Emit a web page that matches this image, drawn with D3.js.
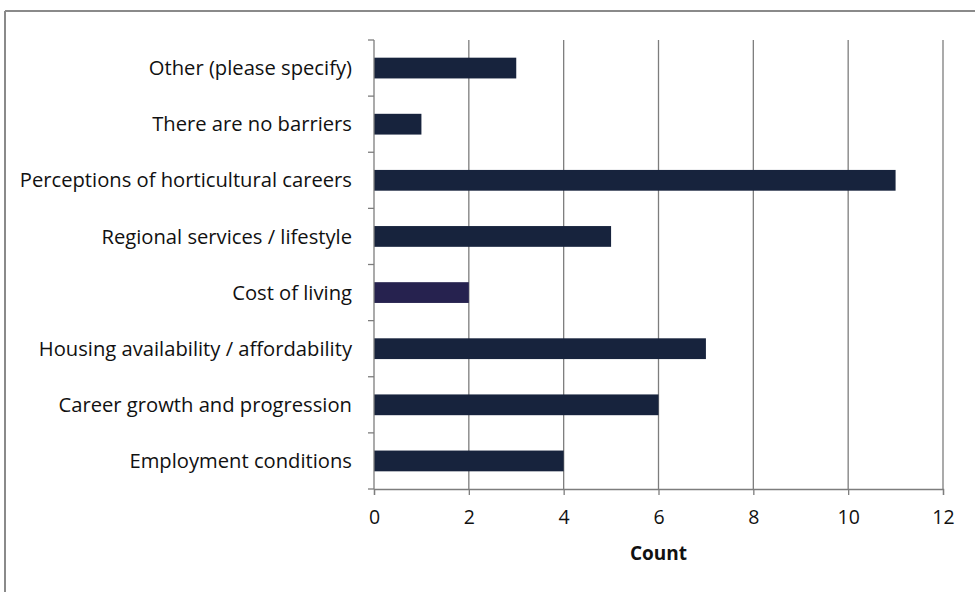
<!DOCTYPE html>
<html>
<head>
<meta charset="utf-8">
<script src="https://cdn.jsdelivr.net/npm/d3@7"></script>
<style>
  body { margin: 0; background: #fff; }
  text { font-family: "Open Sans", Lato, sans-serif; fill: #111; }
</style>
</head>
<body>
<script>
// chart data
var categories = [
  "Other (please specify)",
  "There are no barriers",
  "Perceptions of horticultural careers",
  "Regional services / lifestyle",
  "Cost of living",
  "Housing availability / affordability",
  "Career growth and progression",
  "Employment conditions"
];
var counts = [3, 1, 11, 5, 2, 7, 6, 4];
var barColors = ["#17233d", "#17233d", "#17233d", "#17233d", "#26224f", "#17233d", "#17233d", "#17233d"];
var xTicks = [0, 2, 4, 6, 8, 10, 12];
var xTitle = "Count";

var width = 975, height = 592;
var plotLeft = 374, plotRight = 943, plotTop = 40, plotBottom = 489;

var svg = d3.select("body").append("svg")
  .attr("width", width).attr("height", height);

// outer frame (top and left edges visible)
svg.append("line").attr("x1", 5).attr("y1", 11).attr("x2", width).attr("y2", 11)
  .attr("stroke", "#8a8a8a").attr("stroke-width", 2);
svg.append("line").attr("x1", 5).attr("y1", 11).attr("x2", 5).attr("y2", height)
  .attr("stroke", "#8a8a8a").attr("stroke-width", 2);

var x = d3.scaleLinear().domain([0, 12]).range([plotLeft, plotRight]);
var y = d3.scaleBand().domain(categories).range([plotTop, plotBottom]).paddingInner(0.63).paddingOuter(0.315);

// vertical grid lines
svg.append("g").selectAll("line")
  .data(xTicks.slice(1))
  .enter().append("line")
  .attr("x1", function(d) { return x(d); })
  .attr("x2", function(d) { return x(d); })
  .attr("y1", plotTop).attr("y2", plotBottom)
  .attr("stroke", "#7d7d7d").attr("stroke-width", 1.3);

// bars
svg.append("g").selectAll("rect")
  .data(categories)
  .enter().append("rect")
  .attr("x", x(0))
  .attr("y", function(d) { return y(d); })
  .attr("width", function(d, i) { return x(counts[i]) - x(0); })
  .attr("height", y.bandwidth())
  .attr("fill", function(d, i) { return barColors[i]; });

// x axis
var xAxis = svg.append("g").attr("transform", "translate(0," + plotBottom + ")")
  .call(d3.axisBottom(x).tickValues(xTicks).tickSize(6).tickPadding(15));
xAxis.select(".domain").attr("stroke", "#7d7d7d").attr("stroke-width", 1.3);
xAxis.selectAll(".tick line").attr("stroke", "#7d7d7d").attr("stroke-width", 1.3);
xAxis.selectAll("text").style("font-size", "19.5px").style("font-family", "'Open Sans', sans-serif").attr("fill", "#111");

// y axis: line plus ticks at band boundaries
svg.append("line").attr("x1", plotLeft).attr("x2", plotLeft).attr("y1", plotTop).attr("y2", plotBottom)
  .attr("stroke", "#7d7d7d").attr("stroke-width", 1.3);
var bounds = d3.range(categories.length + 1).map(function(i) { return plotTop + i * y.step(); });
svg.append("g").selectAll("line")
  .data(bounds)
  .enter().append("line")
  .attr("x1", plotLeft - 6).attr("x2", plotLeft)
  .attr("y1", function(d) { return d; }).attr("y2", function(d) { return d; })
  .attr("stroke", "#7d7d7d").attr("stroke-width", 1.3);

// category labels
svg.append("g").selectAll("text")
  .data(categories)
  .enter().append("text")
  .attr("x", plotLeft - 22)
  .attr("y", function(d) { return y(d) + y.bandwidth() / 2; })
  .attr("dy", "0.35em")
  .attr("text-anchor", "end")
  .style("font-size", "20.2px")
  .text(function(d) { return d; });

// axis title
svg.append("text")
  .attr("x", (plotLeft + plotRight) / 2).attr("y", 560)
  .attr("text-anchor", "middle")
  .style("font-size", "19px").style("font-weight", "bold")
  .text(xTitle);
</script>
</body>
</html>
